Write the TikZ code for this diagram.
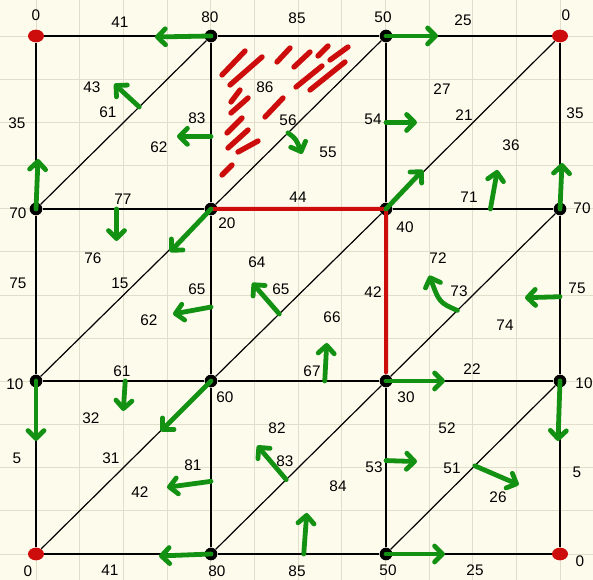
\documentclass[tikz,border=0pt]{standalone}
\usepackage{fontspec}
\setmainfont{Liberation Sans}
\usetikzlibrary{arrows.meta,calc,shapes.geometric}

\definecolor{paper}{RGB}{253,251,236}
\definecolor{paperline}{RGB}{226,222,204}
\definecolor{flowgreen}{RGB}{18,145,18}
\definecolor{cutred}{RGB}{205,12,12}

\begin{document}
\begin{tikzpicture}[
  x=0.75pt, y=-0.75pt,
  dot/.style={circle, fill=black, inner sep=0pt, minimum size=9.5pt},
  reddot/.style={ellipse, fill=cutred, inner sep=0pt, minimum width=12pt, minimum height=9.5pt},
  edge/.style={line width=1.3pt},
  diag/.style={line width=0.9pt},
  cut/.style={cutred, line width=3pt, line cap=round},
  hatch/.style={cutred, line width=4pt, line cap=round},
  flow/.style={flowgreen, line width=3.6pt, line cap=round,
    -{Straight Barb[length=6pt, width=12pt, round]}},
  lbl/.style={font=\fontsize{11.5}{13}\selectfont, inner sep=1pt}
]
% paper
\fill[paper] (0,0) rectangle (593,580);
\useasboundingbox (0,0) rectangle (593,580);
\foreach \k in {0,...,12} {
  \draw[paperline, line width=0.6pt] ({36+43.67*\k},0) -- ++(0,580);
  \draw[paperline, line width=0.6pt] (0,{36+43.17*\k}) -- ++(593,0);
}

% mesh points
\node[reddot] (p11) at (36,36) {};
\node[dot]    (p21) at (211,36) {};
\node[dot]    (p31) at (386,36) {};
\node[reddot] (p41) at (560,36) {};
\node[dot]    (p12) at (36,209) {};
\node[dot]    (p22) at (211,209) {};
\node[dot]    (p32) at (386,209) {};
\node[dot]    (p42) at (560,209) {};
\node[dot]    (p13) at (36,381) {};
\node[dot]    (p23) at (211,381) {};
\node[dot]    (p33) at (386,381) {};
\node[dot]    (p43) at (560,381) {};
\node[reddot] (p14) at (36,554) {};
\node[dot]    (p24) at (211,554) {};
\node[dot]    (p34) at (386,554) {};
\node[reddot] (p44) at (560,554) {};

% edges and diagonals
\foreach \r in {1,...,4} \draw[edge] (p1\r) -- (p2\r) -- (p3\r) -- (p4\r);
\foreach \c in {1,...,4} \draw[edge] (p\c1) -- (p\c2) -- (p\c3) -- (p\c4);
\foreach \c/\cc in {1/2,2/3,3/4}
  \foreach \r/\rr in {1/2,2/3,3/4}
    \draw[diag] (p\c\rr) -- (p\cc\r);

% cut edges and hatched corner
\draw[cut] (p22.center) -- (p32.center) -- ($(p32)!0.95!(p33)$);
\foreach \ax/\ay/\bx/\by in {222/75/245/51, 230/85/262/57, 277/62/290/48,
    294/67/310/52, 318/56/328/46, 330/60/348/47, 296/87/322/66,
    310/90/345/62, 231/102/240/90, 231/113/248/98, 265/117/283/98,
    227/133/242/118, 228/148/248/130, 238/152/258/141, 222/175/232/165}
  \draw[hatch] (\ax,\ay) -- (\bx,\by);

% numbers
\foreach \x/\y/\t [count=\i] in {
    36/15/0, 120/22/41, 210/17/80, 297/18/85, 383/17/50, 463/20/25, 566/15/0,
    17/123/35, 18/213/70, 18/283/75, 15/384/10, 17/458/5, 28/571/0,
    110/570/41, 217/571/80, 297/571/85, 388/570/50, 475/570/25,
    575/113/35, 582/208/70, 577/288/75, 584/383/10, 577/472/5, 580/561/0,
    92/87/43, 108/112/61, 197/118/83, 159/147/62,
    265/87/86, 288/120/56, 328/152/55, 298/197/44,
    442/89/27, 373/119/54, 464/115/21, 511/145/36, 469/197/71,
    123/199/77, 227/223/20, 93/258/76, 120/283/15, 197/289/65, 149/320/62,
    257/262/64, 281/289/65, 332/317/66, 373/292/42, 312/371/67,
    405/227/40, 438/258/72, 459/291/73, 505/325/74, 472/369/22,
    122/371/61, 225/397/60, 91/418/32, 111/458/31, 193/465/81, 140/492/42,
    277/428/82, 285/461/83, 338/486/84,
    406/397/30, 447/428/52, 374/467/53, 452/468/51, 498/497/26}
  \node[lbl] (t\i) at (\x,\y) {\t};

% flows
\draw[flow] (p21.center) -- ++(-56,1);
\draw[flow] ($(p12)!0.59!(p21)$) -- ++(-25,-23);
\draw[flow] ($(p21)!0.58!(p22)$) -- ++(-34,0);
\draw[flow] (p12.center) -- ++(2,-50);
\draw[flow] (p31.center) -- ++(52,0);
\draw[flow] ($(p22)!0.44!(p31)$) .. controls +(8,6) .. ++(14,21);
\draw[flow] ($(p31)!0.5!(p32)$) -- ++(31,0);
\draw[flow] (p32.center) -- ++(37,-39);
\draw[flow] ($(p32)!0.6!(p42)$) -- ++(7,-39);
\draw[flow] (p42.center) -- ++(2,-46);
\draw[flow] ($(p12)!0.46!(p22)$) -- ++(0,32);
\draw[flow] (p22.center) -- ++(-41,43);
\draw[flow] ($(p22)!0.57!(p23)$) -- ++(-38,7);
\draw[flow] ($(p23)!0.39!(p32)$) -- ++(-27,-31);
\draw[flow] ($(p23)!0.65!(p33)$) -- ++(2,-38);
\draw[flow] ($(p33)!0.41!(p42)$) .. controls +(-18,-8) .. ++(-28,-35);
\draw[flow] ($(p42)!0.51!(p43)$) -- ++(-35,1);
\draw[flow] (p33.center) -- ++(59,0);
\draw[flow] ($(p13)!0.51!(p23)$) -- ++(-2,30);
\draw[flow] (p13.center) -- ++(0,60);
\draw[flow] (p23.center) -- ++(-50,50);
\draw[flow] ($(p23)!0.58!(p24)$) -- ++(-44,6);
\draw[flow] (p24.center) -- ++(-52,2);
\draw[flow] ($(p24)!0.43!(p33)$) -- ++(-29,-34);
\draw[flow] ($(p24)!0.53!(p34)$) -- ++(3,-41);
\draw[flow] ($(p33)!0.46!(p34)$) -- ++(31,1);
\draw[flow] ($(p34)!0.51!(p43)$) -- ++(44,19);
\draw[flow] (p43.center) -- ++(-2,60);
\draw[flow] (p34.center) -- ++(59,0);
\end{tikzpicture}
\end{document}
